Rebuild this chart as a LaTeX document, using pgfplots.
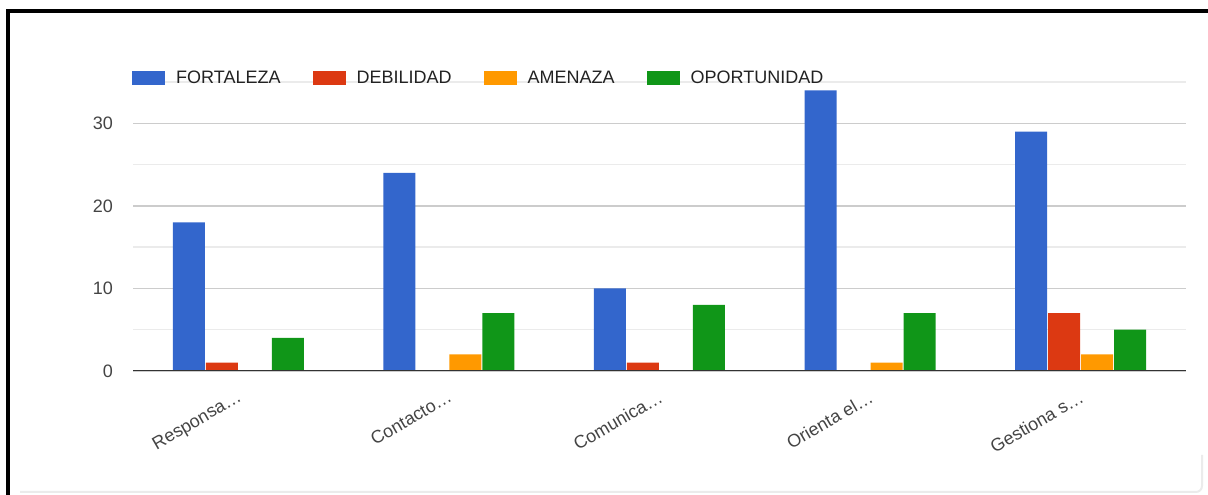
\documentclass[border=0pt]{standalone}
\usepackage{fontspec}
\setmainfont{Liberation Sans}
\usepackage{pgfplots}
\pgfplotsset{compat=1.18}
\definecolor{cF}{HTML}{3366CC}
\definecolor{cD}{HTML}{DC3912}
\definecolor{cA}{HTML}{FF9900}
\definecolor{cO}{HTML}{109618}
\definecolor{tick}{HTML}{444444}
\definecolor{leg}{HTML}{222222}
\definecolor{majgrid}{HTML}{CCCCCC}
\definecolor{mingrid}{HTML}{EBEBEB}
\definecolor{zeroline}{HTML}{333333}
\begin{document}
\begin{tikzpicture}[x=1pt,y=1pt]
\useasboundingbox (0,0) rectangle (1208,495);
% card frame
\draw[line width=2pt, draw=black!8] (20,3) -- (1196,3) arc (-90:0:6) -- (1202,40);
\draw[line width=4pt, black] (6,484) -- (1208,484);
\draw[line width=4pt, black] (8,0) -- (8,486);
\begin{axis}[
  at={(133pt,124pt)}, anchor=south west,
  scale only axis, width=1053pt, height=289pt,
  xmin=-0.5, xmax=4.5, ymin=0, ymax=35,
  axis line style={draw=none},
  major tick length=0pt, minor tick length=0pt,
  ytick={0,10,20,30},
  minor ytick={5,15,25,35},
  ymajorgrids, yminorgrids,
  major grid style={draw=majgrid, line width=1.3pt},
  minor grid style={draw=mingrid, line width=1.3pt},
  xtick={0,1,2,3,4},
  xticklabels={Responsa…,Contacto…,Comunica…,Orienta el…,Gestiona s…},
  /pgf/number format/assume math mode=true,
  tick label style={font=\fontsize{18}{21}\selectfont, text=tick},
  yticklabel style={anchor=east, inner xsep=0pt, xshift=-20pt},
  xticklabel style={rotate=30, anchor=north east, inner sep=0pt, xshift=-11pt, yshift=-15pt},
  ybar, bar width=32pt,
  legend columns=4,
  legend style={at={(rel axis cs:0,1)}, anchor=west, yshift=4pt, xshift=-4pt,
    draw=none, fill=none, font=\fontsize{18}{21}\selectfont, text=leg,
    nodes={inner sep=0pt},
    /tikz/every odd column/.append style={column sep=11pt},
    /tikz/every even column/.append style={column sep=32pt}},
  legend image code/.code={\fill[#1] (0pt,-7pt) rectangle (33pt,7pt);},
]
\addplot[fill=cF, draw=none, bar shift=-49.5pt] coordinates {(0,18) (1,24) (2,10) (3,34) (4,29)};
\addplot[fill=cD, draw=none, bar shift=-16.5pt] coordinates {(0,1) (1,0) (2,1) (3,0) (4,7)};
\addplot[fill=cA, draw=none, bar shift=16.5pt] coordinates {(0,0) (1,2) (2,0) (3,1) (4,2)};
\addplot[fill=cO, draw=none, bar shift=49.5pt] coordinates {(0,4) (1,7) (2,8) (3,7) (4,5)};
\legend{FORTALEZA,DEBILIDAD,AMENAZA,OPORTUNIDAD}
\draw[zeroline, line width=1.6pt] (rel axis cs:0,0) -- (rel axis cs:1,0);
\end{axis}
\end{tikzpicture}
\end{document}
